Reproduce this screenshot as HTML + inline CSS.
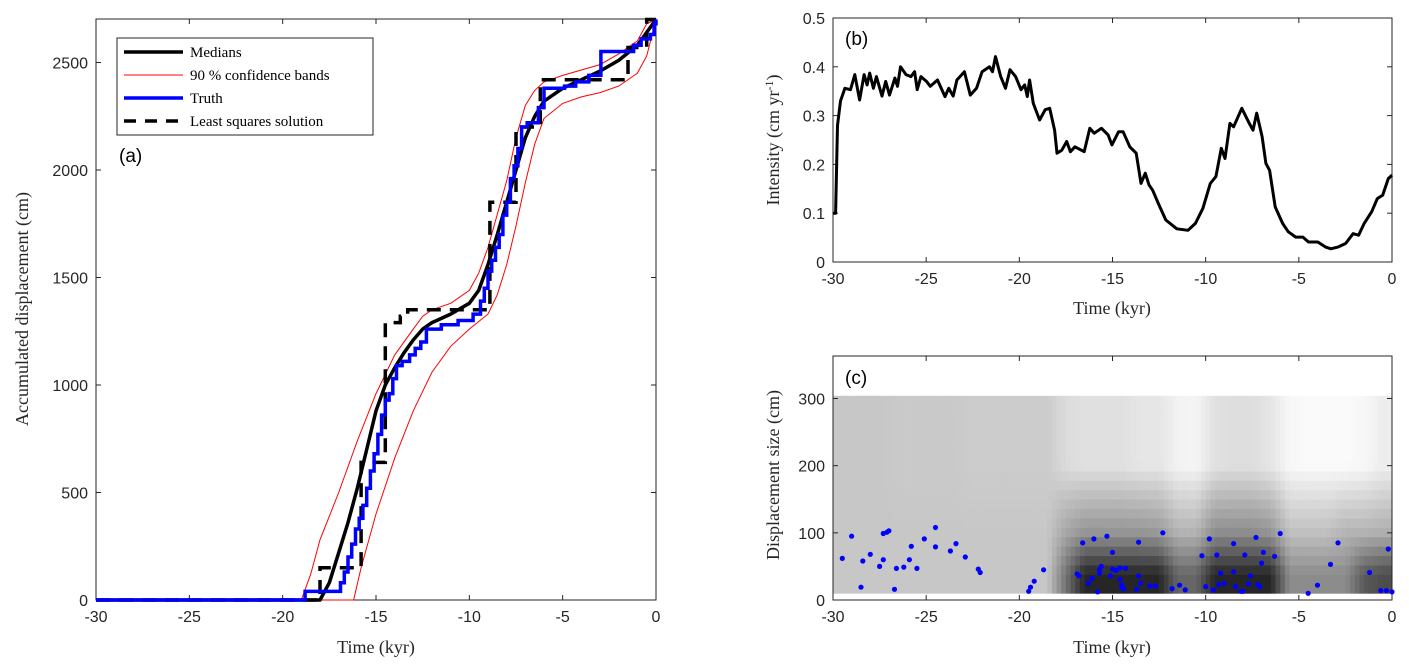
<!DOCTYPE html>
<html><head><meta charset="utf-8"><style>
html,body{margin:0;padding:0;background:#fff;}
svg{display:block;}
.tk{font-family:"Liberation Sans",sans-serif;font-size:16px;fill:#262626;}
.tt{font-family:"Liberation Serif",serif;font-size:18px;fill:#262626;}
.lg{font-family:"Liberation Serif",serif;font-size:15px;fill:#000;}
.pl{font-family:"Liberation Sans",sans-serif;font-size:19px;fill:#000;}
</style></head><body>
<svg id="fig" width="1409" height="671" viewBox="0 0 1409 671" xmlns="http://www.w3.org/2000/svg"></svg>
<script>
// ---------- Panel (a) data ----------
const medT=[-30,-18,-17.5,-17,-16.5,-16,-15.5,-15,-14.5,-14,-13.5,-13,-12.5,-12,-11,-10,-9.5,-9,-8.5,-8,-7.5,-7,-6.5,-6,-5,-4,-3,-2,-1,-0.5,0];
const medD=[0,0,80,220,360,520,700,880,1000,1080,1150,1210,1260,1290,1330,1380,1440,1560,1700,1850,2000,2150,2250,2320,2380,2420,2460,2510,2580,2640,2700];
const upT=[-19,-18.5,-18,-17,-16,-15,-14,-13,-12.5,-12,-11,-10,-9.5,-9,-8,-7.5,-7,-6.5,-6,-5,-3,-2,-1,-0.5,0];
const upD=[0,120,280,500,740,960,1140,1260,1320,1350,1380,1440,1520,1640,1950,2150,2300,2370,2410,2440,2490,2540,2600,2680,2700];
const loT=[-16.2,-15.8,-15,-14,-13,-12,-11,-10,-9,-8.5,-8,-7.5,-7,-6.5,-6,-5,-4,-3,-2,-1,-0.5,0];
const loD=[0,150,400,660,880,1060,1180,1260,1330,1420,1560,1740,1940,2120,2240,2310,2340,2360,2390,2450,2530,2700];
const truthT=[-18.8,-16.9,-16.7,-16.5,-16.3,-16.1,-15.9,-15.7,-15.5,-15.3,-15.1,-14.9,-14.7,-14.5,-14.3,-14.1,-13.9,-13.6,-13.2,-12.9,-12.6,-12.3,-11.5,-10.6,-9.8,-9.4,-9.2,-9.0,-8.8,-8.6,-8.4,-8.2,-8.0,-7.8,-7.6,-7.4,-7.2,-6.9,-6.3,-6.0,-4.9,-4.3,-3.6,-2.95,-1.2,-0.8,-0.3,-0.1,0];
const truthD=[40,80,130,200,260,330,380,440,520,600,680,770,860,930,960,1030,1090,1110,1140,1170,1200,1260,1280,1300,1330,1390,1450,1530,1580,1640,1700,1790,1850,1960,2020,2100,2200,2220,2290,2380,2390,2410,2440,2551,2580,2610,2630,2680,2700];
const lsT=[-18,-15.8,-14.5,-13.7,-13.3,-8.9,-7.5,-6.2,-1.5,-0.5,0];
const lsD=[150,640,1290,1320,1350,1850,2200,2420,2570,2700,2700];
// ---------- Panel (b) data ----------
const intT=[-30,-29.86,-29.76,-29.6,-29.36,-29.06,-28.83,-28.57,-28.33,-28.17,-28.03,-27.83,-27.67,-27.37,-27.17,-26.97,-26.68,-26.54,-26.38,-26.08,-25.82,-25.62,-25.48,-25.28,-24.98,-24.78,-24.39,-23.99,-23.79,-23.55,-23.35,-22.95,-22.63,-22.3,-22,-21.6,-21.44,-21.28,-21,-20.74,-20.5,-20.2,-19.91,-19.71,-19.57,-19.45,-19.25,-18.91,-18.61,-18.37,-18.11,-17.98,-17.72,-17.46,-17.26,-17.02,-16.52,-16.22,-15.98,-15.59,-15.23,-15.03,-14.67,-14.43,-14.07,-13.73,-13.47,-13.24,-13.04,-12.84,-12.54,-12.14,-11.55,-10.95,-10.55,-10.15,-9.75,-9.45,-9.16,-8.96,-8.7,-8.5,-8.06,-7.66,-7.46,-7.26,-6.97,-6.77,-6.57,-6.27,-5.87,-5.57,-5.17,-4.78,-4.48,-3.98,-3.58,-3.28,-2.88,-2.49,-2.09,-1.79,-1.49,-1.09,-0.79,-0.5,-0.2,0];
const intV=[0.10,0.10,0.28,0.33,0.356,0.353,0.384,0.332,0.384,0.363,0.387,0.356,0.38,0.34,0.37,0.342,0.377,0.36,0.40,0.384,0.38,0.39,0.353,0.38,0.37,0.36,0.373,0.339,0.356,0.34,0.373,0.39,0.342,0.356,0.39,0.40,0.39,0.421,0.38,0.356,0.394,0.38,0.353,0.363,0.339,0.373,0.325,0.291,0.312,0.315,0.27,0.223,0.229,0.247,0.226,0.236,0.226,0.274,0.264,0.274,0.26,0.24,0.267,0.267,0.236,0.223,0.161,0.182,0.158,0.147,0.12,0.086,0.068,0.065,0.079,0.11,0.161,0.175,0.233,0.212,0.284,0.277,0.315,0.284,0.27,0.305,0.257,0.202,0.188,0.113,0.079,0.062,0.051,0.051,0.041,0.041,0.031,0.027,0.031,0.038,0.058,0.055,0.079,0.103,0.130,0.137,0.171,0.178];
// ---------- Panel (c) data ----------
const darkLow=[0.22,0.22,0.22,0.22,0.22,0.22,0.22,0.22,0.22,0.22,0.22,0.22,0.55,0.85,0.85,0.85,0.85,0.85,0.6,0.6,0.85,0.85,0.85,0.85,0.45,0.45,0.45,0.45,0.65,0.7];
const darkMid=[0.22,0.22,0.22,0.22,0.22,0.22,0.22,0.22,0.22,0.22,0.22,0.22,0.35,0.42,0.42,0.42,0.42,0.4,0.3,0.3,0.45,0.45,0.45,0.42,0.25,0.25,0.25,0.3,0.3,0.32];
const darkHigh=[0.22,0.22,0.22,0.21,0.21,0.21,0.21,0.2,0.2,0.2,0.2,0.2,0.14,0.12,0.12,0.12,0.1,0.1,0.05,0.04,0.12,0.13,0.13,0.1,0.03,0.02,0.02,0.02,0.03,0.07];
const evT=[-29.5,-29.0,-28.5,-28.4,-28.0,-27.5,-27.3,-27.3,-27.1,-27.0,-26.7,-26.6,-26.2,-25.9,-25.8,-25.5,-25.1,-24.5,-24.5,-23.7,-23.4,-22.9,-22.2,-22.1,-19.5,-19.4,-19.2,-18.7,-16.9,-16.8,-16.6,-16.3,-16.1,-16.0,-15.8,-15.7,-15.7,-15.6,-15.3,-15.1,-15.0,-15.0,-14.8,-14.6,-14.6,-14.5,-14.5,-14.3,-14.4,-13.7,-13.6,-13.6,-13.5,-13.0,-12.7,-12.3,-11.8,-11.4,-11.1,-10.2,-10.0,-9.8,-9.6,-9.4,-9.3,-9.2,-9.0,-8.5,-8.5,-8.4,-8.1,-8.0,-7.9,-7.7,-7.6,-7.3,-7.2,-7.1,-7.0,-6.9,-6.3,-6.0,-4.5,-4.0,-3.3,-2.9,-1.2,-0.6,-0.3,-0.2,0.0];
const evS=[62,95,19,58,68,50,60,99,101,103,16,47,49,60,80,47,91,108,79,73,84,64,46,41,13,19,28,45,39,36,85,25,32,91,12,45,40,50,95,36,71,46,44,31,48,22,18,47,17,16,86,36,25,21,21,100,17,22,15,66,20,91,15,67,23,40,25,84,42,20,13,13,67,24,36,93,23,20,55,71,65,99,10,22,53,85,41,14,14,76,12];
const xTicks=[-30,-25,-20,-15,-10,-5,0];
const aYTicks=[0,500,1000,1500,2000,2500];
const bYTicks=[0,0.1,0.2,0.3,0.4,0.5];
const cYTicks=[0,100,200,300];

const NS='http://www.w3.org/2000/svg';
const svg=document.getElementById('fig');
function mk(tag,attrs,parent){const e=document.createElementNS(NS,tag);for(const k in attrs)e.setAttribute(k,attrs[k]);(parent||svg).appendChild(e);return e;}
function lin(d0,d1,p0,p1){return v=>p0+(v-d0)*(p1-p0)/(d1-d0);}

const A={x0:96,x1:656,y0:19,y1:600,xs:lin(-30,0,96,656),ys:lin(0,2700,600,19.5)};
const B={x0:833,x1:1392,y0:18,y1:262,xs:lin(-30,0,833,1392),ys:lin(0,0.5,262,18)};
const C={x0:833,x1:1392,y0:356,y1:600,xs:lin(-30,0,833,1392),ys:lin(0,300,600,398.5)};

function axesFrame(ax,name,yTicks,yFmt){
  const g=mk('g',{});
  
  
  xTicks.forEach(t=>{const x=ax.xs(t);
    mk('line',{x1:x,x2:x,y1:ax.y1,y2:ax.y1-5,stroke:'#262626','stroke-width':1},g);
    mk('line',{x1:x,x2:x,y1:ax.y0,y2:ax.y0+5,stroke:'#262626','stroke-width':1},g);
    const tx=mk('text',{x:x,y:ax.y1+22,'text-anchor':'middle',class:'tk'},g);tx.textContent=String(t);
    
    
  });
  yTicks.forEach(v=>{const y=ax.ys(v);
    mk('line',{x1:ax.x0,x2:ax.x0+5,y1:y,y2:y,stroke:'#262626','stroke-width':1},g);
    mk('line',{x1:ax.x1,x2:ax.x1-5,y1:y,y2:y,stroke:'#262626','stroke-width':1},g);
    const tx=mk('text',{x:ax.x0-8,y:y+6,'text-anchor':'end',class:'tk'},g);tx.textContent=yFmt(v);
    
    
  });
  const r=mk('rect',{x:ax.x0,y:ax.y0,width:ax.x1-ax.x0,height:ax.y1-ax.y0,fill:'none',stroke:'#262626','stroke-width':1},g);
  
  
  return g;
}
function poly(ax,T,D){return T.map((t,i)=>ax.xs(t).toFixed(1)+','+ax.ys(D[i]).toFixed(1)).join(' ');}
function stairs(ax,T,D,startT,startD){let pts=[[startT,startD]];let prev=startD;T.forEach((t,i)=>{pts.push([t,prev]);pts.push([t,D[i]]);prev=D[i];});return pts.map(p=>ax.xs(p[0]).toFixed(1)+','+ax.ys(p[1]).toFixed(1)).join(' ');}
function interp(arr,pos){const p=Math.max(0,Math.min(arr.length-1,pos));const i=Math.floor(p);const f=p-i;return i+1<arr.length?arr[i]*(1-f)+arr[i+1]*f:arr[i];}

// ---------- Panel (c) heatmap ----------
const hm=mk('g',{});


const rowEdges=[];for(let s=10;s<=304;s+=14)rowEdges.push(s);
for(let ci=0;ci<120;ci++){
  const t0=-30+ci*0.25;const pos=(t0+0.125+30)-0.5;
  const dl=interp(darkLow,pos),dm=interp(darkMid,pos),dh=interp(darkHigh,pos);
  for(let ri=0;ri<rowEdges.length-1;ri++){
    const s0=rowEdges[ri],s1=rowEdges[ri+1],c=(s0+s1)/2;
    let d;
    if(c<38)d=dl;
    else if(c<100){const f=(c-38)/62;d=dl*(1-f)+dm*f;d=Math.max(dm,d);}
    else if(c<200){const f=(c-100)/100;d=dm*(1-f)+dh*f;}
    else d=dh;
    const g=Math.round(255*(1-d));
    const cell=mk('rect',{x:C.xs(t0).toFixed(2),y:C.ys(s1).toFixed(2),width:(C.xs(t0+0.25)-C.xs(t0)+0.4).toFixed(2),height:(C.ys(s0)-C.ys(s1)+0.4).toFixed(2),fill:`rgb(${g},${g},${g})`},hm);
    
    
  }
}
axesFrame(C,'panel-c',cYTicks,v=>String(v));
evT.forEach((t,i)=>{const c=mk('circle',{cx:C.xs(t).toFixed(1),cy:C.ys(evS[i]).toFixed(1),r:2.6,fill:'#0000ff'});
  
  });

// ---------- Panel (b) ----------
axesFrame(B,'panel-b',bYTicks,v=>v===0?'0':v.toFixed(1));
const il=mk('polyline',{points:poly(B,intT,intV),fill:'none',stroke:'#000','stroke-width':3,'stroke-linejoin':'round'});



// ---------- Panel (a) ----------
axesFrame(A,'panel-a',aYTicks,v=>String(v));
const up=mk('polyline',{points:poly(A,[-30].concat(upT),[0].concat(upD)),fill:'none',stroke:'#ff0000','stroke-width':1});


const lo=mk('polyline',{points:poly(A,[-30].concat(loT),[0].concat(loD)),fill:'none',stroke:'#ff0000','stroke-width':1});


const ls=mk('polyline',{points:stairs(A,lsT,lsD,-30,0),fill:'none',stroke:'#000','stroke-width':3.5,'stroke-dasharray':'14,9'});


const md=mk('polyline',{points:poly(A,medT,medD),fill:'none',stroke:'#000','stroke-width':3.5,'stroke-linejoin':'round'});


const tr=mk('polyline',{points:stairs(A,truthT,truthD,-30,0),fill:'none',stroke:'#0000ff','stroke-width':3.5});



// legend
const lg=mk('g',{});


mk('rect',{x:117,y:38,width:256,height:97,fill:'#fff',stroke:'#262626','stroke-width':1},lg);
const items=[['Medians','#000',3.5,null],['90 % confidence bands','#ff0000',1,null],['Truth','#0000ff',3.5,null],['Least squares solution','#000',3.5,'12,9']];
items.forEach((it,i)=>{const y=52+i*23;
  const ln=mk('line',{x1:124,x2:183,y1:y,y2:y,stroke:it[1],'stroke-width':it[2]},lg);
  if(it[3])ln.setAttribute('stroke-dasharray',it[3]);
  const tx=mk('text',{x:190,y:y+5,class:'lg'},lg);tx.textContent=it[0];
  
  
});

function txt(x,y,s,cls,name,rot,anchor){const t=mk('text',{x:x,y:y,class:cls,'text-anchor':anchor||'middle'});t.textContent=s;if(rot)t.setAttribute('transform',`rotate(-90 ${x} ${y})`);
  
  return t;}
txt(119,162,'(a)','pl','panel-a-label',false,'start');
txt(845,45,'(b)','pl','panel-b-label',false,'start');
txt(845,384,'(c)','pl','panel-c-label',false,'start');
txt(376,653,'Time (kyr)','tt','panel-a-x-title');
txt(1112,314,'Time (kyr)','tt','panel-b-x-title');
txt(1112,653,'Time (kyr)','tt','panel-c-x-title');
txt(28,309,'Accumulated displacement (cm)','tt','panel-a-y-title',true);
txt(779,475,'Displacement size (cm)','tt','panel-c-y-title',true);
const by=txt(779,140,'','tt','panel-b-y-title',true);
by.textContent='Intensity (cm yr';
const sup=document.createElementNS(NS,'tspan');sup.setAttribute('dy','-6');sup.setAttribute('font-size','12');sup.textContent='-1';by.appendChild(sup);
const cl=document.createElementNS(NS,'tspan');cl.setAttribute('dy','6');cl.textContent=')';by.appendChild(cl);
</script>
</body></html>
